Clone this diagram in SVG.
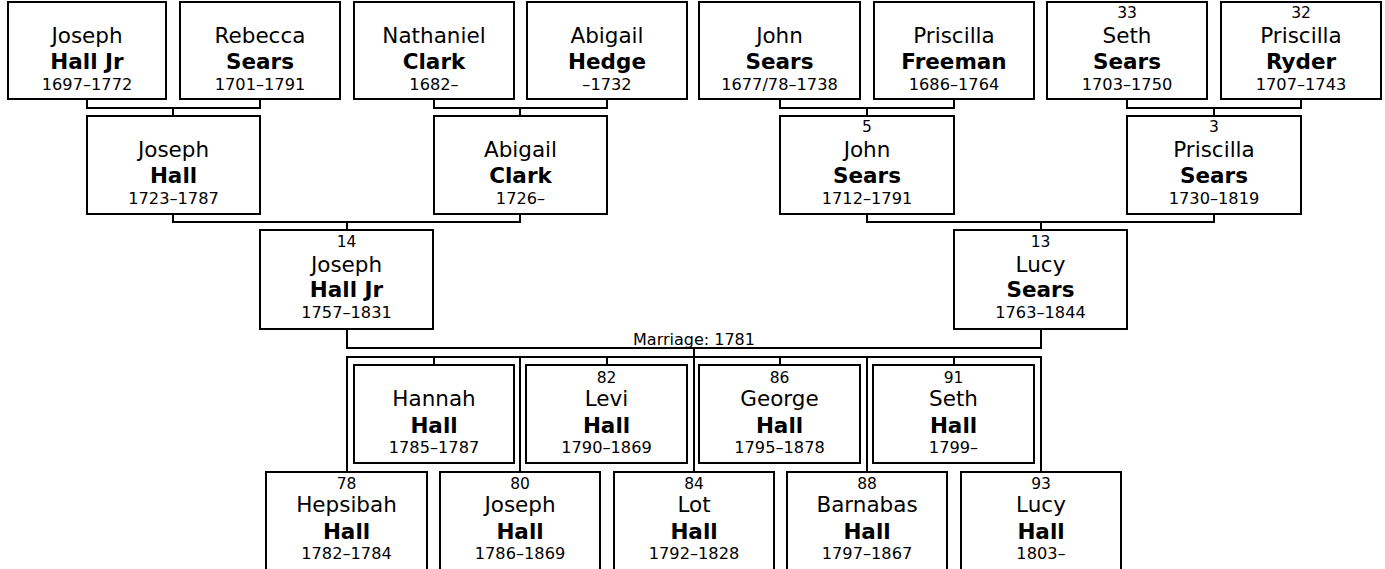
<svg xmlns="http://www.w3.org/2000/svg" width="1385" height="569" viewBox="0 0 1385 569">
<style>
.box{fill:#fff;stroke:#000;stroke-width:2}
text{font-family:"DejaVu Sans",Verdana,sans-serif;text-anchor:middle;fill:#000}
.num{font-size:15.5px}
.n{font-size:21.5px}
.s{font-size:21.5px;font-weight:bold}
.d{font-size:16.2px}
.lbl{font-size:16px}
.c{fill:none;stroke:#000;stroke-width:2}
</style>
<rect width="1385" height="569" fill="#fff"/>
<g id="connectors" class="c">
<path d="M87 99V108H260V99M173 108V116"/>
<path d="M434 99V108H607V99M520 108V116"/>
<path d="M780 99V108H954V99M867 108V116"/>
<path d="M1127 99V108H1301V99M1214 108V116"/>
<path d="M173 214V222H520V214M347 222V230"/>
<path d="M867 214V222H1214V214M1041 222V230"/>
<path d="M347 329V348H1041V329M694 348V472"/>
<path d="M347 472V357H1041V472M520 357V472M867 357V472M434 357V365M607 357V365M780 357V365M954 357V365"/>
<text class="lbl" x="694" y="345" stroke="none">Marriage: 1781</text>
</g>
<g id="n1"><rect class="box" x="8" y="2" width="158" height="97"/><text class="n" x="87" y="43">Joseph</text><text class="s" x="87" y="68.5">Hall Jr</text><text class="d" x="87" y="89.5">1697–1772</text></g>
<g id="n2"><rect class="box" x="180" y="2" width="160" height="97"/><text class="n" x="260" y="43">Rebecca</text><text class="s" x="260" y="68.5">Sears</text><text class="d" x="260" y="89.5">1701–1791</text></g>
<g id="n3"><rect class="box" x="354" y="2" width="160" height="97"/><text class="n" x="434" y="43">Nathaniel</text><text class="s" x="434" y="68.5">Clark</text><text class="d" x="434" y="89.5">1682–</text></g>
<g id="n4"><rect class="box" x="527" y="2" width="160" height="97"/><text class="n" x="607" y="43">Abigail</text><text class="s" x="607" y="68.5">Hedge</text><text class="d" x="607" y="89.5">–1732</text></g>
<g id="n5"><rect class="box" x="699" y="2" width="161" height="97"/><text class="n" x="779.5" y="43">John</text><text class="s" x="779.5" y="68.5">Sears</text><text class="d" x="779.5" y="89.5">1677/78–1738</text></g>
<g id="n6"><rect class="box" x="874" y="2" width="160" height="97"/><text class="n" x="954" y="43">Priscilla</text><text class="s" x="954" y="68.5">Freeman</text><text class="d" x="954" y="89.5">1686–1764</text></g>
<g id="n7"><rect class="box" x="1047" y="2" width="160" height="97"/><text class="num" x="1127" y="18">33</text><text class="n" x="1127" y="43">Seth</text><text class="s" x="1127" y="68.5">Sears</text><text class="d" x="1127" y="89.5">1703–1750</text></g>
<g id="n8"><rect class="box" x="1221" y="2" width="160" height="97"/><text class="num" x="1301" y="18">32</text><text class="n" x="1301" y="43">Priscilla</text><text class="s" x="1301" y="68.5">Ryder</text><text class="d" x="1301" y="89.5">1707–1743</text></g>
<g id="g2a"><rect class="box" x="87" y="116" width="173" height="98"/><text class="n" x="173.5" y="157">Joseph</text><text class="s" x="173.5" y="182.5">Hall</text><text class="d" x="173.5" y="203.5">1723–1787</text></g>
<g id="g2b"><rect class="box" x="434" y="116" width="173" height="98"/><text class="n" x="520.5" y="157">Abigail</text><text class="s" x="520.5" y="182.5">Clark</text><text class="d" x="520.5" y="203.5">1726–</text></g>
<g id="g2c"><rect class="box" x="780" y="116" width="174" height="98"/><text class="num" x="867" y="132">5</text><text class="n" x="867" y="157">John</text><text class="s" x="867" y="182.5">Sears</text><text class="d" x="867" y="203.5">1712–1791</text></g>
<g id="g2d"><rect class="box" x="1127" y="116" width="174" height="98"/><text class="num" x="1214" y="132">3</text><text class="n" x="1214" y="157">Priscilla</text><text class="s" x="1214" y="182.5">Sears</text><text class="d" x="1214" y="203.5">1730–1819</text></g>
<g id="g3a"><rect class="box" x="260" y="230" width="173" height="99"/><text class="num" x="346.5" y="246.5">14</text><text class="n" x="346.5" y="271.5">Joseph</text><text class="s" x="346.5" y="297">Hall Jr</text><text class="d" x="346.5" y="317.5">1757–1831</text></g>
<g id="g3b"><rect class="box" x="954" y="230" width="173" height="99"/><text class="num" x="1040.5" y="246.5">13</text><text class="n" x="1040.5" y="271.5">Lucy</text><text class="s" x="1040.5" y="297">Sears</text><text class="d" x="1040.5" y="317.5">1763–1844</text></g>
<g id="c1"><rect class="box" x="354" y="365" width="160" height="98"/><text class="n" x="434" y="405.5">Hannah</text><text class="s" x="434" y="432.5">Hall</text><text class="d" x="434" y="453">1785–1787</text></g>
<g id="c2"><rect class="box" x="526" y="365" width="161" height="98"/><text class="num" x="606.5" y="382.5">82</text><text class="n" x="606.5" y="405.5">Levi</text><text class="s" x="606.5" y="432.5">Hall</text><text class="d" x="606.5" y="453">1790–1869</text></g>
<g id="c3"><rect class="box" x="699" y="365" width="161" height="98"/><text class="num" x="779.5" y="382.5">86</text><text class="n" x="779.5" y="405.5">George</text><text class="s" x="779.5" y="432.5">Hall</text><text class="d" x="779.5" y="453">1795–1878</text></g>
<g id="c4"><rect class="box" x="873" y="365" width="161" height="98"/><text class="num" x="953.5" y="382.5">91</text><text class="n" x="953.5" y="405.5">Seth</text><text class="s" x="953.5" y="432.5">Hall</text><text class="d" x="953.5" y="453">1799–</text></g>
<g id="c5"><rect class="box" x="266" y="472" width="161" height="100"/><text class="num" x="346.5" y="488.5">78</text><text class="n" x="346.5" y="512">Hepsibah</text><text class="s" x="346.5" y="538.5">Hall</text><text class="d" x="346.5" y="558.5">1782–1784</text></g>
<g id="c6"><rect class="box" x="440" y="472" width="160" height="100"/><text class="num" x="520" y="488.5">80</text><text class="n" x="520" y="512">Joseph</text><text class="s" x="520" y="538.5">Hall</text><text class="d" x="520" y="558.5">1786–1869</text></g>
<g id="c7"><rect class="box" x="614" y="472" width="160" height="100"/><text class="num" x="694" y="488.5">84</text><text class="n" x="694" y="512">Lot</text><text class="s" x="694" y="538.5">Hall</text><text class="d" x="694" y="558.5">1792–1828</text></g>
<g id="c8"><rect class="box" x="787" y="472" width="160" height="100"/><text class="num" x="867" y="488.5">88</text><text class="n" x="867" y="512">Barnabas</text><text class="s" x="867" y="538.5">Hall</text><text class="d" x="867" y="558.5">1797–1867</text></g>
<g id="c9"><rect class="box" x="961" y="472" width="160" height="100"/><text class="num" x="1041" y="488.5">93</text><text class="n" x="1041" y="512">Lucy</text><text class="s" x="1041" y="538.5">Hall</text><text class="d" x="1041" y="558.5">1803–</text></g>
</svg>
